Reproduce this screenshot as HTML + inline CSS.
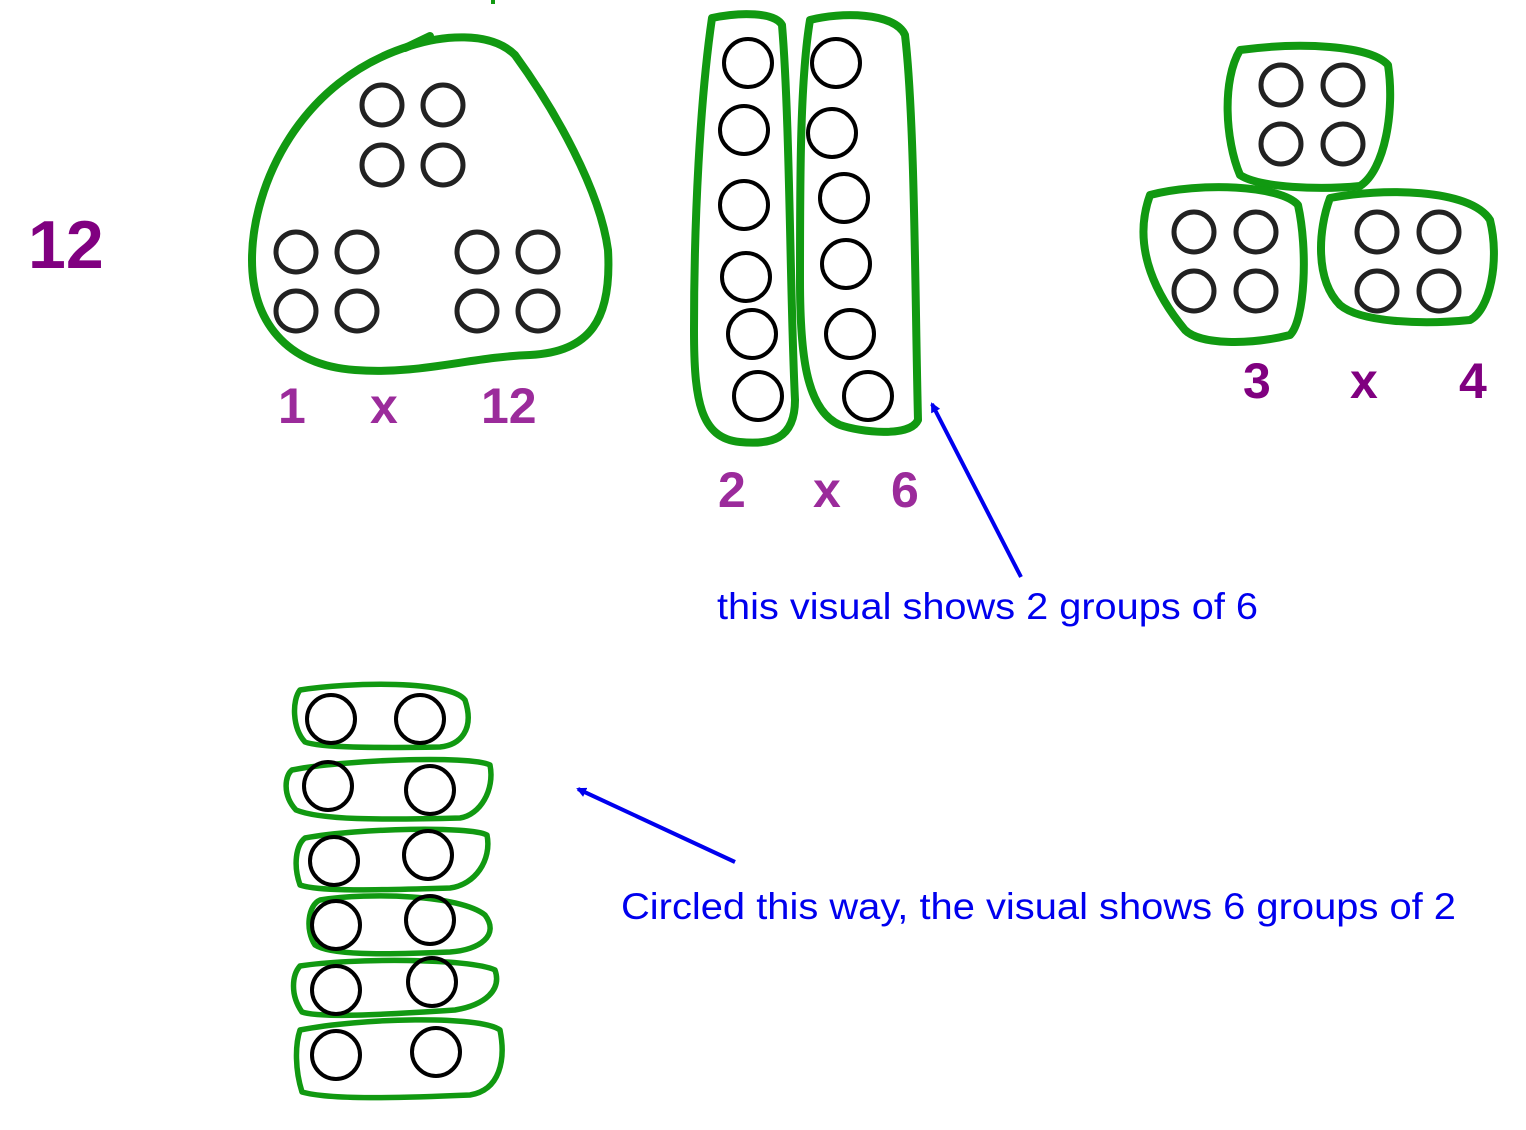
<!DOCTYPE html>
<html><head><meta charset="utf-8"><style>
html,body{margin:0;padding:0;background:#fff;}
svg{display:block;}
</style></head><body>
<svg width="1526" height="1130" viewBox="0 0 1526 1130" xmlns="http://www.w3.org/2000/svg">
<defs>
<marker id="ah" markerWidth="10" markerHeight="10" refX="8" refY="5" orient="auto" markerUnits="userSpaceOnUse"><path d="M0,0 L10,5 L0,10 Z" fill="#0000ee"/></marker>
</defs>
<g fill="none" stroke="#119911" stroke-width="8" stroke-linejoin="round" stroke-linecap="round">
<path d="M410,46 C440,36 490,30 515,55 C555,110 600,190 608,250 C612,320 590,352 530,355 C470,357 420,375 355,370 C285,365 252,320 252,260 C252,185 300,80 410,46 Z" stroke-width="8"/>
<path d="M405,48 L430,36"/>
<path d="M712,18 C740,12 775,12 782,25 C790,120 790,300 795,400 C795,440 770,445 740,442 C700,438 694,400 694,330 C694,220 700,100 712,18 Z"/>
<path d="M810,20 C840,12 895,12 905,35 C915,120 915,300 918,420 C910,438 860,432 840,425 C805,410 800,350 800,280 C800,180 800,80 810,20 Z"/>
<path d="M1240,50 C1300,42 1370,45 1388,65 C1395,110 1385,170 1360,186 C1320,190 1260,188 1240,175 C1225,140 1222,80 1240,50 Z"/>
<path d="M1150,195 C1200,182 1280,185 1298,205 C1308,250 1305,320 1290,335 C1250,345 1200,345 1185,330 C1160,300 1130,250 1150,195 Z"/>
<path d="M1330,198 C1380,188 1470,188 1490,220 C1500,260 1490,310 1470,320 C1420,325 1360,322 1340,305 C1315,280 1318,230 1330,198 Z"/>
<g stroke-width="5.5">
<path d="M300,690 C350,682 450,680 465,700 C475,730 460,745 440,747 C380,748 320,748 305,742 C292,728 292,700 300,690 Z"/>
<path d="M292,770 C340,760 470,755 490,765 C495,790 480,815 460,818 C380,820 320,820 296,810 C282,795 285,775 292,770 Z"/>
<path d="M305,838 C360,828 470,826 487,835 C492,860 475,885 450,888 C380,890 320,892 300,885 C293,865 296,845 305,838 Z"/>
<path d="M320,900 C370,892 460,895 485,915 C500,935 480,950 450,952 C380,955 330,955 315,945 C305,930 308,905 320,900 Z"/>
<path d="M300,966 C350,958 470,958 495,970 C502,990 485,1005 455,1010 C380,1015 320,1018 302,1012 C290,995 292,975 300,966 Z"/>
<path d="M300,1030 C360,1018 480,1015 500,1030 C506,1060 500,1090 470,1095 C400,1098 330,1100 302,1092 C295,1070 295,1045 300,1030 Z"/>
</g>
</g>
<g fill="none" stroke="#222" stroke-width="5">
<circle cx="382" cy="105" r="20"/><circle cx="443" cy="105" r="20"/><circle cx="382" cy="165" r="20"/><circle cx="443" cy="165" r="20"/>
<circle cx="296" cy="252" r="20"/><circle cx="357" cy="252" r="20"/><circle cx="296" cy="311" r="20"/><circle cx="357" cy="311" r="20"/>
<circle cx="477" cy="252" r="20"/><circle cx="538" cy="252" r="20"/><circle cx="477" cy="311" r="20"/><circle cx="538" cy="311" r="20"/>
<circle cx="1281" cy="85" r="20"/><circle cx="1343" cy="85" r="20"/><circle cx="1281" cy="144" r="20"/><circle cx="1343" cy="144" r="20"/>
<circle cx="1194" cy="232" r="20"/><circle cx="1256" cy="232" r="20"/><circle cx="1194" cy="291" r="20"/><circle cx="1256" cy="291" r="20"/>
<circle cx="1377" cy="232" r="20"/><circle cx="1439" cy="232" r="20"/><circle cx="1377" cy="291" r="20"/><circle cx="1439" cy="291" r="20"/>
</g>
<g fill="none" stroke="#000" stroke-width="4">
<circle cx="748" cy="63" r="24"/><circle cx="744" cy="130" r="24"/><circle cx="744" cy="205" r="24"/><circle cx="746" cy="277" r="24"/><circle cx="752" cy="334" r="24"/><circle cx="758" cy="396" r="24"/>
<circle cx="836" cy="63" r="24"/><circle cx="832" cy="133" r="24"/><circle cx="844" cy="198" r="24"/><circle cx="846" cy="264" r="24"/><circle cx="850" cy="334" r="24"/><circle cx="868" cy="396" r="24"/>
<circle cx="331" cy="719" r="24"/><circle cx="420" cy="719" r="24"/><circle cx="328" cy="786" r="24"/><circle cx="430" cy="790" r="24"/>
<circle cx="334" cy="861" r="24"/><circle cx="428" cy="855" r="24"/><circle cx="336" cy="925" r="24"/><circle cx="430" cy="920" r="24"/>
<circle cx="336" cy="990" r="24"/><circle cx="432" cy="982" r="24"/><circle cx="336" cy="1055" r="24"/><circle cx="436" cy="1052" r="24"/>
</g>
<g font-family="Liberation Sans, sans-serif" font-weight="bold">
<text x="28" y="268" font-size="68" fill="#800080">12</text>
<g font-size="50" fill="#9b2b9b">
<text x="278" y="423">1</text><text x="370" y="423">x</text><text x="481" y="423">12</text>
<text x="718" y="507">2</text><text x="813" y="507">x</text><text x="891" y="507">6</text>
</g>
<g font-size="50" fill="#800080">
<text x="1243" y="398">3</text><text x="1350" y="398">x</text><text x="1459" y="398">4</text>
</g>
</g>
<g font-family="Liberation Sans, sans-serif" font-size="37" fill="#0000ee">
<text x="717" y="619" textLength="541" lengthAdjust="spacingAndGlyphs">this visual shows 2 groups of 6</text>
<text x="621" y="919" textLength="835" lengthAdjust="spacingAndGlyphs">Circled this way, the visual shows 6 groups of 2</text>
</g>
<g stroke="#0000ee" stroke-width="4" fill="none">
<line x1="1021" y1="577" x2="932" y2="404" marker-end="url(#ah)"/>
<line x1="735" y1="862" x2="578" y2="789" marker-end="url(#ah)"/>
</g>
<line x1="493" y1="0" x2="493" y2="4" stroke="#119911" stroke-width="4"/>
</svg>
</body></html>
